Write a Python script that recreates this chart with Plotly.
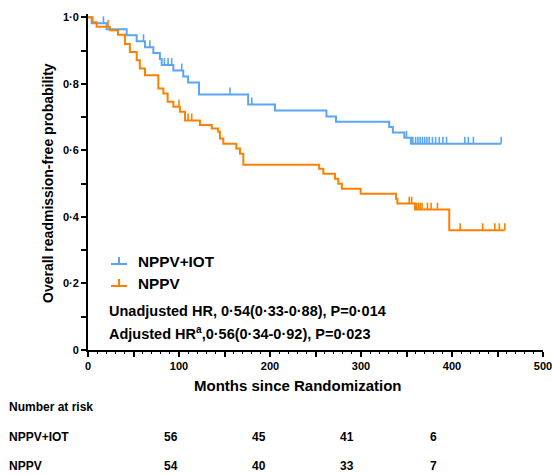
import plotly.graph_objects as go

# ---- data ----
iot_t = [0, 4, 20.5, 42.5, 53.5, 62.6, 71.8, 79, 81, 93.8, 104.7, 110, 122, 176, 205.5, 262, 272.5, 331, 335, 347.6, 355, 454]
iot_s = [1.0, 0.982, 0.964, 0.946, 0.928, 0.91, 0.893, 0.875, 0.857, 0.84, 0.822, 0.804, 0.768, 0.738, 0.72, 0.702, 0.686, 0.67, 0.654, 0.638, 0.62, 0.62]
iot_cens_t = [17, 61, 68, 84, 88, 92, 103, 156, 180, 350, 357, 360, 362.5, 365, 367.5, 370, 372.5, 375, 378.5, 382, 386, 390, 394, 414, 418, 423.5, 454]
iot_cens_s = [0.982, 0.928, 0.91, 0.857, 0.857, 0.857, 0.84, 0.768, 0.738, 0.638, 0.62, 0.62, 0.62, 0.62, 0.62, 0.62, 0.62, 0.62, 0.62, 0.62, 0.62, 0.62, 0.62, 0.62, 0.62, 0.62, 0.62]

nppv_t = [0, 5, 9.5, 24, 33, 40.7, 46, 53.5, 57, 62.6, 77.3, 82.8, 87.5, 93.8, 101, 106.6, 123, 136, 143, 145, 148.7, 163, 167, 170.7, 254, 258.6, 271.4, 275, 279, 299.6, 338.5, 340, 359.3, 397, 458]
nppv_s = [1.0, 0.985, 0.972, 0.961, 0.948, 0.92, 0.896, 0.871, 0.846, 0.826, 0.786, 0.771, 0.746, 0.731, 0.716, 0.69, 0.676, 0.666, 0.656, 0.636, 0.62, 0.606, 0.59, 0.557, 0.545, 0.53, 0.515, 0.50, 0.485, 0.47, 0.455, 0.44, 0.422, 0.36, 0.36]
nppv_cens_t = [22, 100, 110, 114, 353, 355.7, 361, 363, 365, 367, 373, 377, 384, 409, 433.7, 447, 452, 458]
nppv_cens_s = [0.972, 0.731, 0.69, 0.69, 0.44, 0.44, 0.422, 0.422, 0.422, 0.422, 0.422, 0.422, 0.422, 0.36, 0.36, 0.36, 0.36, 0.36]

groups = ["NPPV+IOT", "NPPV"]
risk_iot = [56, 45, 41, 6]
risk_nppv = [54, 40, 33, 7]

x_ticks = [0, 50, 100, 150, 200, 250, 300, 350, 400, 450, 500]
x_labels = ["0", "", "100", "", "200", "", "300", "", "400", "", "500"]
y_ticks = [0, 0.1, 0.2, 0.3, 0.4, 0.5, 0.6, 0.7, 0.8, 0.9, 1.0]
y_labels = ["0", "", "0·2", "", "0·4", "", "0·6", "", "0·8", "", "1·0"]

BLUE = "#5AA6F4"
ORANGE = "#FF8000"
FONT = "Liberation Sans, Arial, sans-serif"

fig = go.Figure()
for t, s, ct, cs, col in [(iot_t, iot_s, iot_cens_t, iot_cens_s, BLUE),
                          (nppv_t, nppv_s, nppv_cens_t, nppv_cens_s, ORANGE)]:
    fig.add_trace(go.Scatter(x=t, y=s, mode="lines", line=dict(color=col, width=2, shape="hv"),
                             showlegend=False, hoverinfo="skip"))
    fig.add_trace(go.Scatter(x=ct, y=cs, mode="markers", marker=dict(size=2, color="rgba(0,0,0,0)"),
                             error_y=dict(type="data", symmetric=False, array=[0.021] * len(ct),
                                          arrayminus=[0] * len(ct), width=0, thickness=1.6, color=col),
                             showlegend=False, hoverinfo="skip"))

L, T, PW, PH = 88, 14, 455, 336  # plot area in px (y range 0..1.01)
W, H = 552, 475

def px(xp):
    return (xp - L) / PW

def py(yp):
    return (T + PH - yp) / PH

shapes = []
annotations = []
# legend
for i, (name, col) in enumerate(zip(groups, [BLUE, ORANGE])):
    yl = 264 + 22 * i
    shapes.append(dict(type="line", xref="paper", yref="paper", x0=px(111), x1=px(127), y0=py(yl), y1=py(yl),
                       line=dict(color=col, width=2)))
    shapes.append(dict(type="line", xref="paper", yref="paper", x0=px(119), x1=px(119), y0=py(yl), y1=py(yl - 7),
                       line=dict(color=col, width=2)))
    annotations.append(dict(xref="paper", yref="paper", x=px(136), y=py(yl - 3), text="<b>%s</b>" % name,
                            showarrow=False, xanchor="left", yanchor="middle",
                            font=dict(family=FONT, size=15.3, color="black")))

annotations.append(dict(xref="paper", yref="paper", x=px(107), y=py(311),
                        text="<b>Unadjusted HR, 0·54(0·33-0·88), P=0·014</b>", showarrow=False,
                        xanchor="left", yanchor="middle", font=dict(family=FONT, size=14.5, color="black")))
annotations.append(dict(xref="paper", yref="paper", x=px(107), y=py(333),
                        text="<b>Adjusted HR<sup>a</sup>,0·56(0·34-0·92), P=0·023</b>", showarrow=False,
                        xanchor="left", yanchor="middle", font=dict(family=FONT, size=14.5, color="black")))
# axis titles
annotations.append(dict(xref="paper", yref="paper", x=px(298), y=py(385),
                        text="<b>Months since Randomization</b>", showarrow=False,
                        xanchor="center", yanchor="middle", font=dict(family=FONT, size=15, color="black")))
annotations.append(dict(xref="paper", yref="paper", x=px(48), y=py(183), textangle=-90,
                        text="<b>Overall readmission-free probability</b>", showarrow=False,
                        xanchor="center", yanchor="middle", font=dict(family=FONT, size=14, color="black")))
# number at risk table
annotations.append(dict(xref="paper", yref="paper", x=px(7), y=py(407), text="<b>Number at risk</b>",
                        showarrow=False, xanchor="left", yanchor="middle",
                        font=dict(family=FONT, size=12, color="black")))
col_x = [162, 250, 338, 428]
for name, row, yr in [(groups[0], risk_iot, 437), (groups[1], risk_nppv, 466)]:
    annotations.append(dict(xref="paper", yref="paper", x=px(7), y=py(yr), text="<b>%s</b>" % name,
                            showarrow=False, xanchor="left", yanchor="middle",
                            font=dict(family=FONT, size=12, color="black")))
    for xv, v in zip(col_x, row):
        annotations.append(dict(xref="paper", yref="paper", x=px(xv), y=py(yr), text="<b>%d</b>" % v,
                                showarrow=False, xanchor="left", yanchor="middle",
                                font=dict(family=FONT, size=12, color="black")))

fig.update_layout(
    width=W, height=H, margin=dict(l=L, r=W - L - PW, t=T, b=H - T - PH, autoexpand=False),
    paper_bgcolor="white", plot_bgcolor="white",
    shapes=shapes, annotations=annotations, showlegend=False,
    xaxis=dict(range=[0, 500], showgrid=False, zeroline=False, showline=True, linecolor="black", linewidth=2,
               automargin=False, ticklabeloverflow="allow",
               ticks="outside", ticklen=5, tickwidth=1.5, tickcolor="black",
               tickvals=x_ticks, ticktext=["<b>%s</b>" % s for s in x_labels],
               tickfont=dict(family=FONT, size=11, color="black"),
               minor=dict(dtick=10, ticklen=2, tickwidth=1, tickcolor="black", ticks="outside", showgrid=False)),
    yaxis=dict(range=[0, 1.01], showgrid=False, zeroline=False, showline=True, linecolor="black", linewidth=2,
               automargin=False,
               ticks="outside", ticklen=5, tickwidth=1.5, tickcolor="black",
               tickvals=y_ticks, ticktext=["<b>%s</b>" % s for s in y_labels],
               tickfont=dict(family=FONT, size=11, color="black")),
)

fig.write_html("out.html", config={"displayModeBar": False},
               post_script="document.body.style.margin='0';document.body.style.overflow='hidden';")
